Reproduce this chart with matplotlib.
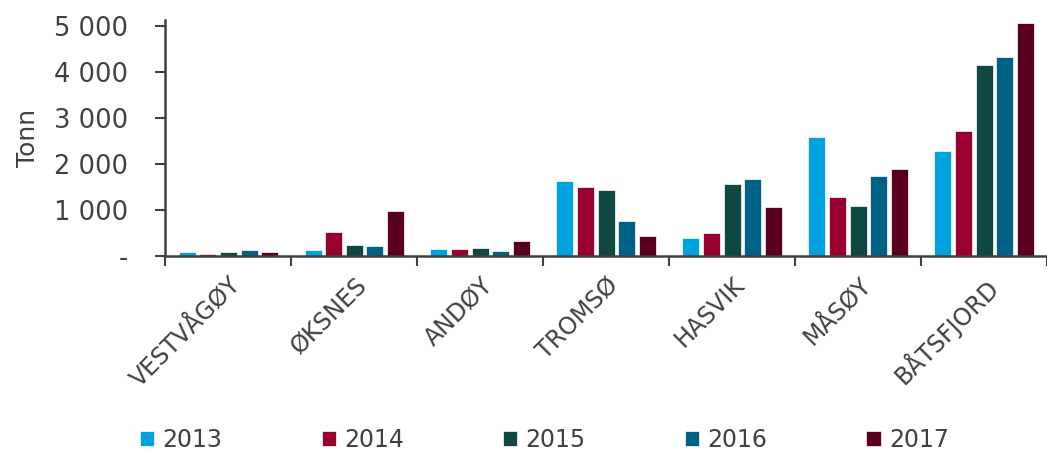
import numpy as np
import matplotlib.pyplot as plt
from matplotlib.ticker import FuncFormatter, FixedLocator

kommuner = ["VESTVÅGØY", "ØKSNES", "ANDØY", "TROMSØ", "HASVIK", "MÅSØY", "BÅTSFJORD"]
years = ["2013", "2014", "2015", "2016", "2017"]

v2013 = [80, 137, 145, 1630, 391, 2587, 2283]
v2014 = [43, 522, 152, 1500, 493, 1275, 2710]
v2015 = [94, 232, 167, 1435, 1565, 1080, 4152]
v2016 = [130, 210, 101, 754, 1681, 1732, 4326]
v2017 = [90, 978, 326, 428, 1065, 1891, 5065]
series = [v2013, v2014, v2015, v2016, v2017]

colors = ["#00A3E0", "#990030", "#0F4743", "#006186", "#5A001E"]
grey = "#404040"

plt.rcParams['font.family'] = ['DejaVu Sans']

fig = plt.figure(figsize=(10.47, 4.53), dpi=100)
ax = fig.add_axes([0.158, 0.435, 0.842, 0.521])

x = np.arange(len(kommuner))
step = 0.164
width = 0.135
for i, (vals, yr) in enumerate(zip(series, years)):
    ax.bar(x + (i - 2) * step, vals, width=width, color=colors[i],
           edgecolor="white", linewidth=0.5, label=yr)

ax.set_xlim(-0.5, len(kommuner) - 0.5)
ax.set_ylim(0, 5130)
ax.set_yticks([0, 1000, 2000, 3000, 4000, 5000])
ax.yaxis.set_major_formatter(FuncFormatter(
    lambda v, p: "-" if v == 0 else f"{int(v):,}".replace(",", " ")))

ax.set_xticks(x)
ax.set_xticklabels(kommuner, rotation=45, ha="right", rotation_mode="anchor",
                   fontsize=17, color=grey)
ax.tick_params(axis="x", which="major", length=0, pad=12)
ax.xaxis.set_minor_locator(FixedLocator(np.arange(len(kommuner) + 1) - 0.5))
ax.tick_params(axis="x", which="minor", length=7, width=1.5, color=grey)
ax.tick_params(axis="y", length=7, width=1.5, color=grey, labelsize=18.5,
               labelcolor=grey, pad=20)

for side in ["top", "right"]:
    ax.spines[side].set_visible(False)
for side in ["left", "bottom"]:
    ax.spines[side].set_color(grey)
    ax.spines[side].set_linewidth(1.8)

ax.set_ylabel("Tonn", fontsize=18, color=grey, labelpad=10)

fig.legend(loc="center", bbox_to_anchor=(0.52, 0.028), ncol=5, frameon=False,
           fontsize=17, handlelength=0.6, handleheight=0.6, handletextpad=0.35,
           columnspacing=4.2, labelcolor=grey)

fig.savefig("out.png", dpi=100)
